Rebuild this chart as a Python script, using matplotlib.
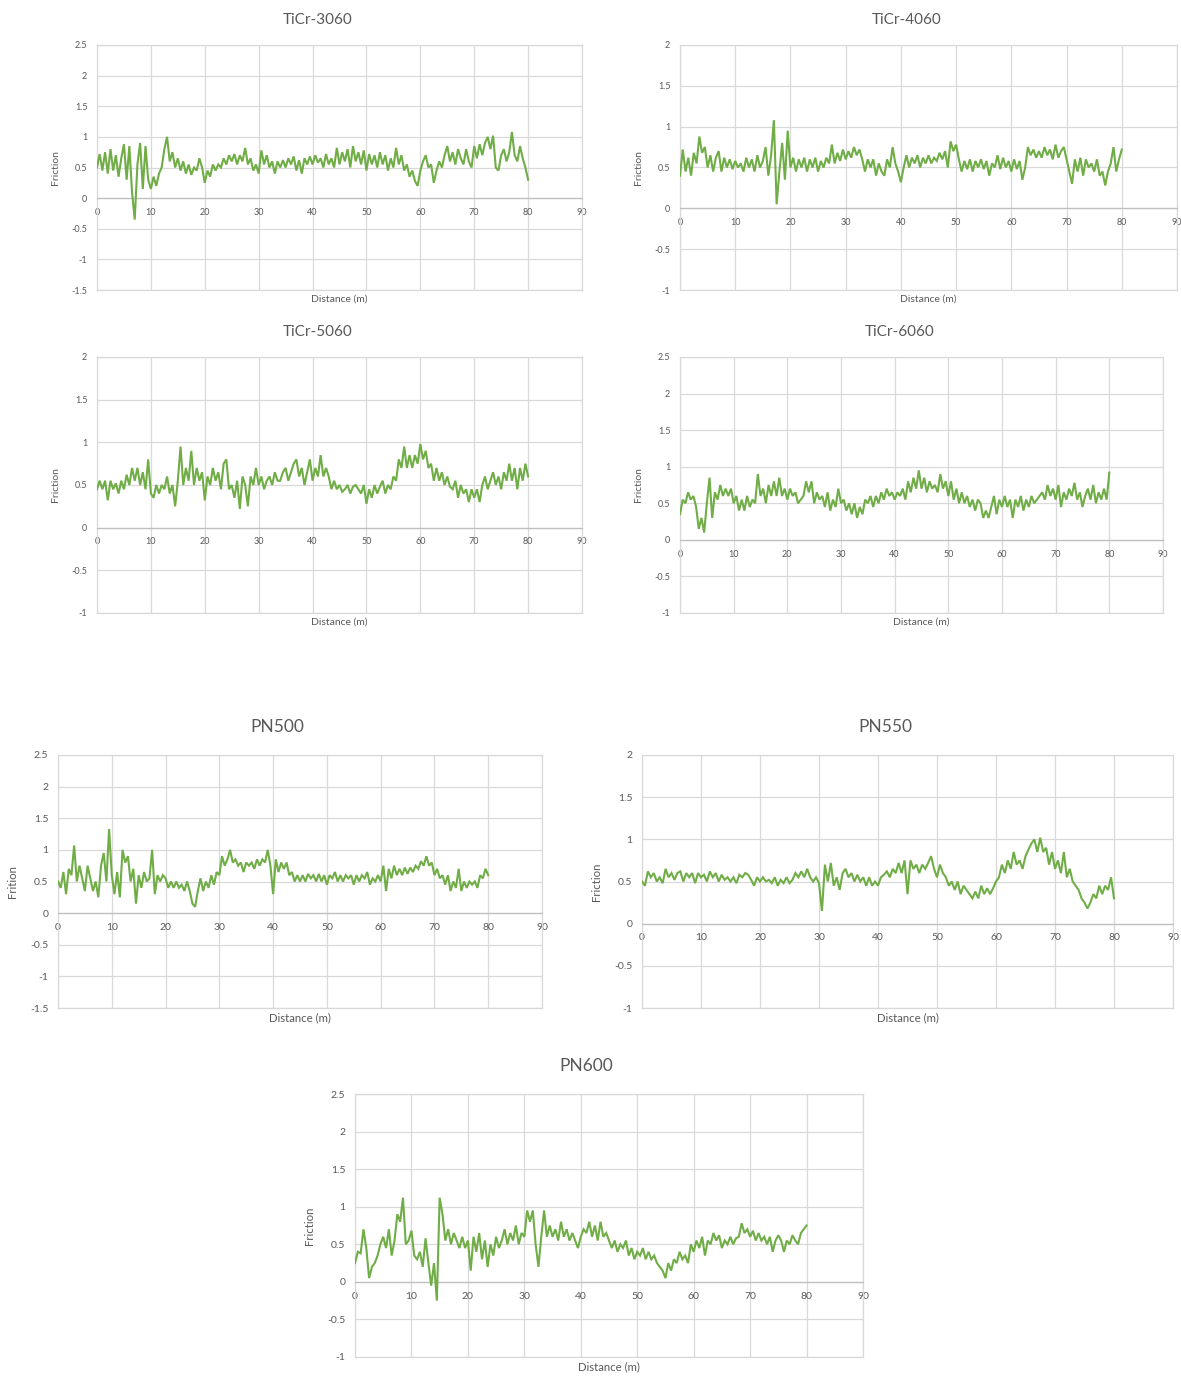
import numpy as np
import matplotlib
matplotlib.use("Agg")
import matplotlib.pyplot as plt

plt.rcParams['font.family'] = ['Lato', 'DejaVu Sans']

# ---------------- data (friction values read every ~0.5 m, 0..80 m) ----------------
ticr3060 = [
    0.50, 0.72, 0.45, 0.75, 0.40, 0.80, 0.45, 0.70, 0.35, 0.65,
    0.88, 0.30, 0.85, 0.10, -0.35, 0.55, 0.90, 0.15, 0.85, 0.30,
    0.15, 0.35, 0.20, 0.40, 0.50, 0.80, 1.00, 0.60, 0.75, 0.50,
    0.65, 0.45, 0.60, 0.40, 0.55, 0.38, 0.50, 0.45, 0.65, 0.50,
    0.25, 0.45, 0.35, 0.55, 0.45, 0.55, 0.50, 0.65, 0.55, 0.70,
    0.60, 0.72, 0.55, 0.70, 0.60, 0.82, 0.55, 0.65, 0.45, 0.55,
    0.40, 0.78, 0.55, 0.70, 0.50, 0.60, 0.40, 0.60, 0.50, 0.62,
    0.50, 0.65, 0.55, 0.68, 0.45, 0.62, 0.40, 0.65, 0.55, 0.68,
    0.55, 0.70, 0.58, 0.65, 0.50, 0.72, 0.55, 0.65, 0.50, 0.82,
    0.55, 0.75, 0.60, 0.80, 0.50, 0.85, 0.60, 0.75, 0.55, 0.78,
    0.45, 0.72, 0.55, 0.70, 0.50, 0.75, 0.55, 0.70, 0.45, 0.65,
    0.50, 0.82, 0.55, 0.70, 0.45, 0.55, 0.35, 0.45, 0.28, 0.20,
    0.45, 0.60, 0.70, 0.50, 0.55, 0.25, 0.45, 0.60, 0.50, 0.70,
    0.85, 0.60, 0.75, 0.55, 0.80, 0.65, 0.55, 0.80, 0.60, 0.50,
    0.85, 0.65, 0.88, 0.70, 0.90, 1.00, 0.80, 1.02, 0.50, 0.45,
    0.70, 0.80, 0.60, 0.75, 1.08, 0.70, 0.60, 0.85, 0.65, 0.50,
    0.30]

ticr4060 = [
    0.40, 0.72, 0.45, 0.62, 0.40, 0.68, 0.55, 0.88, 0.68, 0.75,
    0.50, 0.65, 0.45, 0.62, 0.70, 0.45, 0.62, 0.50, 0.60, 0.48,
    0.58, 0.50, 0.55, 0.45, 0.62, 0.50, 0.60, 0.45, 0.65, 0.50,
    0.58, 0.75, 0.40, 0.65, 1.08, 0.05, 0.45, 0.80, 0.35, 0.95,
    0.50, 0.62, 0.45, 0.60, 0.50, 0.62, 0.45, 0.60, 0.50, 0.62,
    0.45, 0.58, 0.50, 0.62, 0.55, 0.78, 0.55, 0.68, 0.58, 0.72,
    0.60, 0.70, 0.62, 0.75, 0.65, 0.72, 0.60, 0.45, 0.60, 0.50,
    0.60, 0.40, 0.55, 0.45, 0.40, 0.60, 0.50, 0.75, 0.55, 0.45,
    0.32, 0.50, 0.65, 0.50, 0.62, 0.55, 0.65, 0.50, 0.62, 0.55,
    0.65, 0.55, 0.62, 0.58, 0.68, 0.60, 0.70, 0.50, 0.82, 0.70,
    0.78, 0.60, 0.45, 0.58, 0.48, 0.60, 0.45, 0.58, 0.50, 0.60,
    0.48, 0.58, 0.40, 0.55, 0.50, 0.65, 0.48, 0.62, 0.50, 0.58,
    0.45, 0.60, 0.48, 0.58, 0.35, 0.50, 0.75, 0.65, 0.72, 0.62,
    0.70, 0.62, 0.75, 0.65, 0.72, 0.60, 0.78, 0.62, 0.70, 0.75,
    0.60, 0.45, 0.30, 0.60, 0.45, 0.62, 0.40, 0.60, 0.50, 0.55,
    0.45, 0.60, 0.40, 0.45, 0.28, 0.45, 0.55, 0.75, 0.45, 0.60,
    0.72]

ticr5060 = [
    0.45, 0.55, 0.45, 0.55, 0.32, 0.55, 0.45, 0.52, 0.40, 0.55,
    0.45, 0.62, 0.50, 0.70, 0.55, 0.70, 0.50, 0.65, 0.45, 0.80,
    0.40, 0.35, 0.50, 0.40, 0.50, 0.45, 0.60, 0.40, 0.50, 0.25,
    0.55, 0.95, 0.50, 0.70, 0.55, 0.90, 0.50, 0.70, 0.55, 0.65,
    0.32, 0.60, 0.50, 0.70, 0.55, 0.65, 0.45, 0.75, 0.80, 0.45,
    0.50, 0.35, 0.55, 0.22, 0.60, 0.50, 0.25, 0.60, 0.50, 0.70,
    0.50, 0.60, 0.45, 0.55, 0.60, 0.50, 0.65, 0.55, 0.55, 0.65,
    0.70, 0.55, 0.65, 0.75, 0.80, 0.60, 0.70, 0.50, 0.65, 0.80,
    0.55, 0.70, 0.60, 0.85, 0.60, 0.70, 0.60, 0.45, 0.55, 0.45,
    0.50, 0.42, 0.45, 0.50, 0.40, 0.48, 0.50, 0.45, 0.40, 0.50,
    0.28, 0.45, 0.35, 0.50, 0.40, 0.48, 0.55, 0.40, 0.50, 0.45,
    0.60, 0.55, 0.80, 0.70, 0.95, 0.70, 0.85, 0.70, 0.85, 0.75,
    0.98, 0.80, 0.90, 0.70, 0.75, 0.55, 0.70, 0.55, 0.65, 0.50,
    0.60, 0.48, 0.45, 0.55, 0.35, 0.50, 0.40, 0.45, 0.30, 0.45,
    0.35, 0.45, 0.30, 0.50, 0.60, 0.45, 0.55, 0.65, 0.50, 0.60,
    0.45, 0.65, 0.55, 0.75, 0.55, 0.70, 0.45, 0.70, 0.55, 0.75,
    0.60]

ticr6060 = [
    0.35, 0.55, 0.50, 0.65, 0.55, 0.60, 0.45, 0.15, 0.30, 0.10,
    0.50, 0.85, 0.30, 0.65, 0.55, 0.75, 0.60, 0.70, 0.60, 0.70,
    0.50, 0.60, 0.40, 0.55, 0.40, 0.60, 0.45, 0.55, 0.50, 0.90,
    0.60, 0.70, 0.50, 0.75, 0.60, 0.80, 0.60, 0.85, 0.60, 0.70,
    0.55, 0.70, 0.60, 0.65, 0.50, 0.55, 0.60, 0.80, 0.65, 0.80,
    0.50, 0.65, 0.55, 0.60, 0.45, 0.65, 0.40, 0.55, 0.45, 0.70,
    0.50, 0.55, 0.40, 0.50, 0.35, 0.50, 0.30, 0.45, 0.35, 0.55,
    0.50, 0.60, 0.45, 0.60, 0.50, 0.65, 0.55, 0.70, 0.60, 0.65,
    0.55, 0.65, 0.60, 0.70, 0.55, 0.80, 0.65, 0.85, 0.70, 0.95,
    0.70, 0.85, 0.65, 0.80, 0.70, 0.75, 0.65, 0.90, 0.70, 0.80,
    0.60, 0.80, 0.55, 0.70, 0.50, 0.65, 0.50, 0.60, 0.45, 0.55,
    0.40, 0.55, 0.50, 0.30, 0.40, 0.30, 0.45, 0.60, 0.35, 0.55,
    0.45, 0.60, 0.45, 0.55, 0.30, 0.55, 0.45, 0.60, 0.40, 0.55,
    0.45, 0.60, 0.50, 0.55, 0.60, 0.65, 0.55, 0.75, 0.60, 0.70,
    0.55, 0.75, 0.45, 0.65, 0.55, 0.70, 0.60, 0.78, 0.55, 0.65,
    0.45, 0.60, 0.70, 0.55, 0.75, 0.50, 0.65, 0.55, 0.70, 0.55,
    0.92]

pn500 = [
    0.50, 0.40, 0.65, 0.30, 0.70, 0.60, 1.07, 0.50, 0.75, 0.55,
    0.35, 0.75, 0.55, 0.35, 0.50, 0.25, 0.75, 0.95, 0.50, 1.33,
    0.60, 0.30, 0.65, 0.25, 1.00, 0.80, 0.90, 0.50, 0.70, 0.15,
    0.60, 0.40, 0.65, 0.50, 0.55, 1.00, 0.30, 0.60, 0.50, 0.60,
    0.55, 0.40, 0.50, 0.40, 0.50, 0.40, 0.45, 0.35, 0.50, 0.35,
    0.15, 0.10, 0.35, 0.55, 0.35, 0.50, 0.40, 0.60, 0.45, 0.65,
    0.60, 0.90, 0.75, 0.85, 1.00, 0.80, 0.85, 0.75, 0.80, 0.65,
    0.80, 0.75, 0.80, 0.70, 0.85, 0.75, 0.85, 0.80, 1.00, 0.75,
    0.30, 0.85, 0.65, 0.80, 0.70, 0.80, 0.60, 0.65, 0.50, 0.60,
    0.50, 0.60, 0.50, 0.62, 0.55, 0.60, 0.50, 0.62, 0.50, 0.60,
    0.45, 0.60, 0.55, 0.65, 0.50, 0.60, 0.50, 0.60, 0.55, 0.60,
    0.45, 0.60, 0.50, 0.60, 0.55, 0.65, 0.45, 0.55, 0.50, 0.60,
    0.50, 0.75, 0.35, 0.70, 0.55, 0.75, 0.60, 0.70, 0.60, 0.72,
    0.62, 0.72, 0.65, 0.75, 0.70, 0.82, 0.75, 0.90, 0.75, 0.80,
    0.60, 0.70, 0.55, 0.60, 0.45, 0.60, 0.35, 0.50, 0.40, 0.70,
    0.35, 0.50, 0.40, 0.50, 0.45, 0.50, 0.40, 0.60, 0.55, 0.70,
    0.60]

pn550 = [
    0.50, 0.45, 0.62, 0.55, 0.60, 0.50, 0.55, 0.48, 0.65, 0.55,
    0.60, 0.52, 0.60, 0.62, 0.50, 0.60, 0.55, 0.60, 0.48, 0.60,
    0.55, 0.58, 0.50, 0.62, 0.55, 0.60, 0.50, 0.58, 0.52, 0.55,
    0.50, 0.55, 0.48, 0.58, 0.55, 0.60, 0.58, 0.52, 0.45, 0.55,
    0.50, 0.55, 0.50, 0.52, 0.48, 0.55, 0.45, 0.52, 0.48, 0.55,
    0.48, 0.52, 0.60, 0.55, 0.62, 0.55, 0.65, 0.55, 0.50, 0.55,
    0.48, 0.15, 0.70, 0.50, 0.72, 0.45, 0.55, 0.40, 0.60, 0.65,
    0.55, 0.60, 0.50, 0.58, 0.50, 0.55, 0.45, 0.55, 0.45, 0.50,
    0.45, 0.55, 0.58, 0.62, 0.55, 0.65, 0.60, 0.72, 0.60, 0.75,
    0.35, 0.75, 0.65, 0.70, 0.60, 0.70, 0.65, 0.72, 0.80, 0.65,
    0.55, 0.70, 0.60, 0.55, 0.45, 0.50, 0.40, 0.50, 0.35, 0.45,
    0.40, 0.35, 0.30, 0.38, 0.30, 0.45, 0.35, 0.42, 0.35, 0.42,
    0.50, 0.55, 0.70, 0.60, 0.75, 0.65, 0.85, 0.70, 0.75, 0.65,
    0.80, 0.88, 0.95, 1.00, 0.85, 1.02, 0.85, 0.90, 0.70, 0.85,
    0.65, 0.75, 0.60, 0.85, 0.55, 0.65, 0.50, 0.45, 0.40, 0.30,
    0.25, 0.18, 0.25, 0.35, 0.30, 0.45, 0.35, 0.45, 0.40, 0.55,
    0.30]

pn600 = [
    0.25, 0.40, 0.38, 0.70, 0.45, 0.05, 0.20, 0.25, 0.35, 0.50,
    0.60, 0.45, 0.70, 0.35, 0.55, 0.90, 0.80, 1.12, 0.50, 0.55,
    0.68, 0.35, 0.30, 0.40, 0.20, 0.58, 0.25, -0.05, 0.25, -0.25,
    1.12, 0.90, 0.55, 0.70, 0.50, 0.65, 0.55, 0.45, 0.60, 0.45,
    0.55, 0.15, 0.60, 0.40, 0.65, 0.30, 0.55, 0.20, 0.50, 0.35,
    0.60, 0.45, 0.55, 0.70, 0.50, 0.65, 0.55, 0.75, 0.50, 0.65,
    0.60, 0.95, 0.80, 0.95, 0.50, 0.20, 0.60, 0.95, 0.60, 0.75,
    0.60, 0.70, 0.55, 0.80, 0.60, 0.70, 0.55, 0.65, 0.55, 0.45,
    0.60, 0.70, 0.65, 0.80, 0.60, 0.75, 0.55, 0.80, 0.60, 0.65,
    0.55, 0.45, 0.55, 0.40, 0.50, 0.45, 0.55, 0.35, 0.45, 0.30,
    0.40, 0.35, 0.45, 0.30, 0.40, 0.30, 0.35, 0.25, 0.20, 0.15,
    0.05, 0.25, 0.15, 0.30, 0.25, 0.40, 0.30, 0.35, 0.25, 0.50,
    0.40, 0.55, 0.45, 0.60, 0.35, 0.55, 0.50, 0.65, 0.55, 0.62,
    0.45, 0.55, 0.50, 0.60, 0.50, 0.58, 0.60, 0.78, 0.65, 0.70,
    0.60, 0.68, 0.55, 0.65, 0.55, 0.60, 0.50, 0.60, 0.40, 0.55,
    0.62, 0.55, 0.40, 0.55, 0.50, 0.62, 0.55, 0.50, 0.65, 0.70,
    0.75]

# ---------------- layout ----------------
W, H = 1181, 1376
GREEN = '#70AD47'
GRID = '#D9D9D9'
AXIS = '#BFBFBF'
TXT = '#595959'

fig = plt.figure(figsize=(W / 100, H / 100), dpi=100)
fig.patch.set_facecolor('white')

# (values, title, ylim, ylabel, axes px [left, right, top, bottom], title px (x, y),
#  tick fs, title fs, label fs, ylabel offset px, xlabel offset px)
panels = [
    (ticr3060, 'TiCr-3060', (-1.5, 2.5), 'Friction', (97, 582, 45, 290), (318, 20), 6.5, 11, 7.5, 37, 5),
    (ticr4060, 'TiCr-4060', (-1.0, 2.0), 'Friction', (680, 1177, 45, 290), (907, 20), 6.5, 11, 7.5, 37, 5),
    (ticr5060, 'TiCr-5060', (-1.0, 2.0), 'Friction', (97, 582, 357, 613), (318, 332), 6.5, 11, 7.5, 37, 5),
    (ticr6060, 'TiCr-6060', (-1.0, 2.5), 'Friction', (680, 1163, 357, 613), (900, 332), 6.5, 11, 7.5, 37, 5),
    (pn500, 'PN500', (-1.5, 2.5), 'Frition', (58, 542, 755, 1008), (277, 727), 7.5, 12.5, 8.2, 40, 4),
    (pn550, 'PN550', (-1.0, 2.0), 'Friction', (642, 1173, 755, 1008), (885, 727), 7.5, 12.5, 8.2, 40, 4),
    (pn600, 'PN600', (-1.0, 2.5), 'Friction', (355, 863, 1094, 1357), (586, 1066), 7.5, 12.5, 8.2, 40, 4),
]

for vals, title, ylim, ylabel, (l, r, t, b), (tx, ty), fs_tick, fs_title, fs_lab, yoff, xoff in panels:
    ax = fig.add_axes([l / W, 1 - b / H, (r - l) / W, (b - t) / H])
    y = np.array(vals, dtype=float)
    x = np.linspace(0, 80, len(y))
    ax.plot(x, y, color=GREEN, lw=1.5, solid_joinstyle='miter', zorder=3)
    ax.set_xlim(0, 90)
    ax.set_ylim(*ylim)
    ax.set_xticks(np.arange(0, 91, 10))
    ax.set_yticks(np.arange(ylim[0], ylim[1] + 0.01, 0.5))
    ax.yaxis.set_major_formatter(matplotlib.ticker.FormatStrFormatter('%g'))
    ax.grid(True, color=GRID, lw=0.9, zorder=0)
    ax.set_axisbelow(True)
    for s in ('left', 'right', 'top'):
        ax.spines[s].set_color(GRID)
        ax.spines[s].set_linewidth(0.9)
    ax.spines['bottom'].set_position(('data', 0))
    ax.spines['bottom'].set_color(AXIS)
    ax.spines['bottom'].set_linewidth(0.9)
    ax.axhline(ylim[0], color=GRID, lw=0.9, clip_on=False, zorder=0)
    ax.tick_params(length=0, labelsize=fs_tick, colors=TXT)
    ax.tick_params(axis='x', pad=7)
    ax.tick_params(axis='y', pad=7)
    hpx = b - t
    wpx = r - l
    ax.set_xlabel('Distance (m)', fontsize=fs_lab, color=TXT)
    ax.xaxis.set_label_coords(0.5, -xoff / hpx)
    ax.set_ylabel(ylabel, fontsize=fs_lab, color=TXT)
    ax.yaxis.set_label_coords(-yoff / wpx, 0.5)
    fig.text(tx / W, 1 - ty / H, title, ha='center', va='center',
             fontsize=fs_title, color=TXT)

fig.savefig('out.png', dpi=100, facecolor='white')
